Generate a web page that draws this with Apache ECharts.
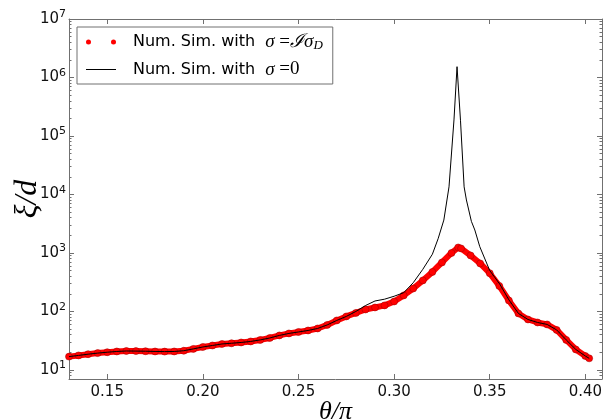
<!DOCTYPE html>
<html><head><meta charset="utf-8">
<script src="https://cdn.jsdelivr.net/npm/echarts@6/dist/echarts.min.js"></script>
<style>html,body{margin:0;padding:0;background:#fff}#c{width:605px;height:420px}</style>
</head><body><div id="c"></div>
<script>
// ---- data ----
const thetaRed = [0.130,0.135,0.140,0.145,0.150,0.155,0.160,0.165,0.170,0.175,0.180,0.185,0.190,0.195,0.200,0.205,0.210,0.215,0.220,0.225,0.230,0.235,0.240,0.245,0.250,0.255,0.260,0.265,0.270,0.275,0.280,0.285,0.290,0.295,0.300,0.305,0.310,0.315,0.320,0.325,0.330,0.3335,0.335,0.340,0.345,0.350,0.355,0.360,0.365,0.370,0.375,0.380,0.385,0.390,0.395,0.400,0.402];
const xiRed = [16.9,17.7,18.6,19.4,20.1,20.7,21.1,21.0,20.9,20.7,20.6,20.7,21.3,22.9,24.7,26.2,27.8,28.6,29.5,30.7,32.6,35.2,38.9,42.1,44.6,47.3,51.2,58.8,70.2,82.2,94.3,108,117,127,148,188,247,339,473,688,1000,1242,1195,906,662,450,273,154,92.5,72.9,64.8,60,48.3,32.6,22.4,17.3,15.8];
const thetaBlack = [0.130,0.135,0.140,0.145,0.150,0.155,0.160,0.165,0.170,0.175,0.180,0.185,0.190,0.195,0.200,0.205,0.210,0.215,0.220,0.225,0.230,0.235,0.240,0.245,0.250,0.255,0.260,0.265,0.270,0.275,0.280,0.285,0.290,0.295,0.300,0.305,0.310,0.315,0.320,0.3230,0.3260,0.3287,0.3313,0.3329,0.3347,0.3366,0.3378,0.3404,0.3422,0.3448,0.350,0.3552,0.360,0.365,0.370,0.375,0.380,0.385,0.390,0.395,0.400,0.402];
const xiBlack = [16.9,17.7,18.6,19.4,20.1,20.7,21.1,21.0,20.9,20.7,20.6,20.7,21.3,22.9,24.7,26.2,27.8,28.6,29.5,30.7,32.6,35.2,38.9,42.1,44.6,47.3,51.2,58.8,70.2,82.2,100,126,151,162,182,209,310,525,950,1750,3650,13500,188000,1530000,186000,13500,8050,3470,2470,1280,500,295,158,92.5,72.9,64.8,60,48.3,32.6,22.4,17.3,15.8];
const xTickLabels = [0.15,0.20,0.25,0.30,0.35,0.40];
const yMajorTicks = [10,100,1000,10000,100000,1000000,10000000];
const yMinorTicks = [8,9,20,30,40,50,60,70,80,90,200,300,400,500,600,700,800,900,2000,3000,4000,5000,6000,7000,8000,9000,20000,30000,40000,50000,60000,70000,80000,90000,200000,300000,400000,500000,600000,700000,800000,900000,2000000,3000000,4000000,5000000,6000000,7000000,8000000,9000000];
const nameRed = 'Num. Sim. with σ=ℐσD';
const nameBlack = 'Num. Sim. with σ=0';

const X_MIN = 0.13, X_MAX = 0.4087, Y_MIN = 7, Y_MAX = 1e7;
const FRAME = '#707070';

function xAxisCfg(pos, showLabel) {
  return {
    type: 'value', position: pos, min: X_MIN, max: X_MAX,
    axisLine: {show: true, onZero: false, lineStyle: {color: FRAME, width: 1}},
    axisTick: {show: true, inside: true, length: 5, customValues: xTickLabels, lineStyle: {color: FRAME}},
    axisLabel: {show: showLabel, customValues: xTickLabels, formatter: v => v.toFixed(2), margin: 6,
      fontSize: 15, fontFamily: 'DejaVu Sans', color: '#111'},
    splitLine: {show: false},
    name: showLabel ? 'θ/π' : '', nameLocation: 'middle', nameGap: 20, nameMoveOverlap: false,
    nameTextStyle: {fontSize: 26, fontFamily: 'Liberation Serif', fontStyle: 'italic', color: '#000'}
  };
}
function yAxisCfg(pos, minor, showLine, showLabel) {
  return {
    type: 'log', logBase: 10, position: pos, min: Y_MIN, max: Y_MAX, interval: 1,
    axisLine: {show: showLine, lineStyle: {color: FRAME, width: 1}},
    axisTick: {show: true, inside: true, length: minor ? 2.5 : 5,
      customValues: minor ? yMinorTicks : yMajorTicks, lineStyle: {color: FRAME}},
    axisLabel: {show: showLabel, customValues: yMajorTicks, margin: 3,
      formatter: v => {
        const e = Math.log10(v);
        if (Math.abs(e - Math.round(e)) > 1e-6) return '';
        return '{b|10}{e|' + Math.round(e) + '}';
      },
      rich: {
        b: {fontSize: 15, fontFamily: 'DejaVu Sans', color: '#111'},
        e: {fontSize: 11, fontFamily: 'DejaVu Sans', color: '#111', padding: [0, 0, 9, 0]}
      }
    },
    splitLine: {show: false},
    name: showLabel ? 'ξ/d' : '', nameLocation: 'middle', nameGap: 25, nameMoveOverlap: false,
    nameTextStyle: {fontSize: 32, fontFamily: 'Liberation Serif', fontStyle: 'italic', color: '#000'}
  };
}

const chart = echarts.init(document.getElementById('c'), null, {renderer: 'canvas'});
chart.setOption({
  animation: false,
  backgroundColor: '#fff',
  grid: {left: 69, right: 3, top: 19, bottom: 41, containLabel: false, outerBoundsMode: 'none'},
  xAxis: [xAxisCfg('bottom', true), xAxisCfg('top', false)],
  yAxis: [yAxisCfg('left', false, true, true), yAxisCfg('left', true, false, false),
          yAxisCfg('right', false, true, false), yAxisCfg('right', true, false, false)],
  legend: {
    orient: 'vertical', left: 77, top: 27, padding: [5, 10, 5, 9], itemGap: 8,
    itemWidth: 30, itemHeight: 5, backgroundColor: '#fff', borderColor: FRAME, borderWidth: 1, borderRadius: 0,
    data: [
      {name: nameRed, icon: 'path://M0,5a5,5 0 1,0 10,0a5,5 0 1,0 -10,0zM50,5a5,5 0 1,0 10,0a5,5 0 1,0 -10,0z',
       itemStyle: {color: '#f00', borderWidth: 0}},
      {name: nameBlack, icon: 'path://M0,0H30V1H0z', itemStyle: {color: '#000', borderWidth: 0}}
    ],
    formatter: n => n === nameRed
      ? '{t|Num. Sim. with}{m1|σ}{u| =}{m|ℐσ}{s|D}'
      : '{t|Num. Sim. with}{m1|σ}{u| =0}',
    textStyle: {
      padding: [0, 0, 0, 12],
      rich: {
        t: {fontSize: 16, lineHeight: 20, fontFamily: 'DejaVu Sans', color: '#000'},
        m1: {fontSize: 19, lineHeight: 20, fontFamily: 'Liberation Serif', fontStyle: 'italic', color: '#000', padding: [0, 0, 0, 10]},
        m: {fontSize: 19, lineHeight: 20, fontFamily: 'Liberation Serif', fontStyle: 'italic', color: '#000'},
        u: {fontSize: 19, lineHeight: 20, fontFamily: 'Liberation Serif', color: '#000'},
        s: {fontSize: 13, lineHeight: 20, fontFamily: 'Liberation Serif', fontStyle: 'italic', color: '#000', padding: [7, 0, 0, 0]}
      }
    }
  },
  series: [
    {
      name: nameRed, type: 'line', xAxisIndex: 0, yAxisIndex: 0,
      data: thetaRed.map((t, i) => [t, xiRed[i]]),
      symbol: 'circle', symbolSize: 7, showSymbol: true,
      lineStyle: {color: '#f00', width: 6},
      itemStyle: {color: '#f00', borderColor: '#9a0000', borderWidth: 0.5},
      z: 2
    },
    {
      name: nameBlack, type: 'line', xAxisIndex: 0, yAxisIndex: 0,
      data: thetaBlack.map((t, i) => [t, xiBlack[i]]),
      symbol: 'none', lineStyle: {color: '#000', width: 1},
      itemStyle: {color: '#000'},
      z: 3
    }
  ]
});
</script></body></html>
